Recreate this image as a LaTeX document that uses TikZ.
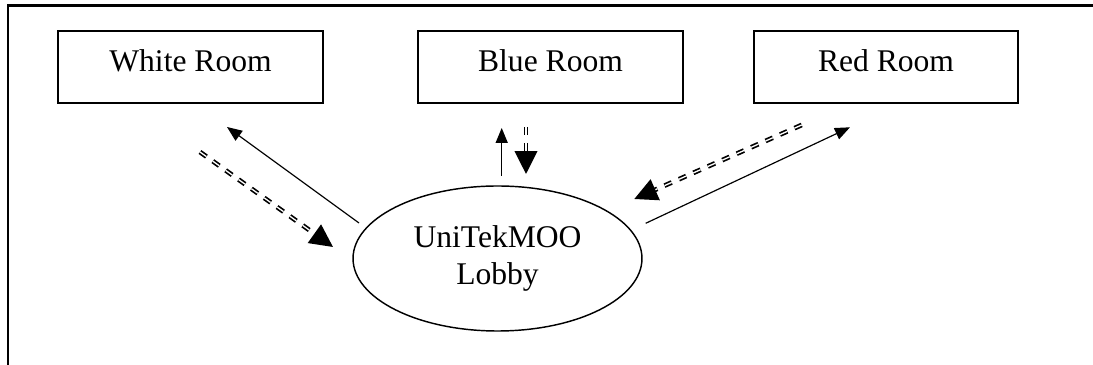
\documentclass[tikz,border=0pt]{standalone}
\usepackage{fontspec}
\setmainfont{Liberation Serif}
\usetikzlibrary{shapes.geometric,arrows.meta}

\tikzset{
  room/.style={draw,line width=0.9pt,minimum width=100.5pt,minimum height=27.4pt,inner sep=0pt,text height=8pt,text depth=4.2pt},
  lobby/.style={draw,ellipse,line width=0.55pt,minimum width=109.8pt,minimum height=55.1pt,inner sep=0pt,align=center},
  solidarr/.style={line width=0.45pt,-{Triangle[length=5.7pt,width=4.6pt]}},
  dblarr/.style={double,line width=0.65pt,double distance=0.5pt,dash pattern=on 3pt off 3pt,-{Triangle[length=8.7pt,width=8.6pt]}}
}

\begin{document}
\begin{tikzpicture}[x=0.38pt,y=-0.38pt,font=\fontsize{12}{14}\selectfont]
\useasboundingbox (0,0) rectangle (1093,365);
\draw [line width=0.9pt] (8,365)--(8,5.5)--(1093,5.5);
\node [room] (white) at (190.5,67) {White Room};
\node [room] (blue) at (550.5,67) {Blue Room};
\node [room] (red) at (886,67) {Red Room};
\node [lobby] (lobby) at (497.5,258.5) {UniTekMOO\\Lobby};
\coordinate (w1) at (359,223);
\coordinate (w2) at (227,127);
\coordinate (w3) at (200,152);
\coordinate (w4) at (333,247);
\coordinate (b1) at (501.7,176);
\coordinate (b2) at (501.7,128);
\coordinate (b3) at (526,127);
\coordinate (b4) at (526,174);
\coordinate (r1) at (645.7,223.3);
\coordinate (r2) at (850,127.3);
\coordinate (r3) at (801.7,125);
\coordinate (r4) at (634.3,199);
\draw [solidarr] (w1)--(w2);
\draw [dblarr] (w3)--(w4);
\draw [solidarr] (b1)--(b2);
\draw [dblarr] (b3)--(b4);
\draw [solidarr] (r1)--(r2);
\draw [dblarr] (r3)--(r4);
\end{tikzpicture}
\end{document}
